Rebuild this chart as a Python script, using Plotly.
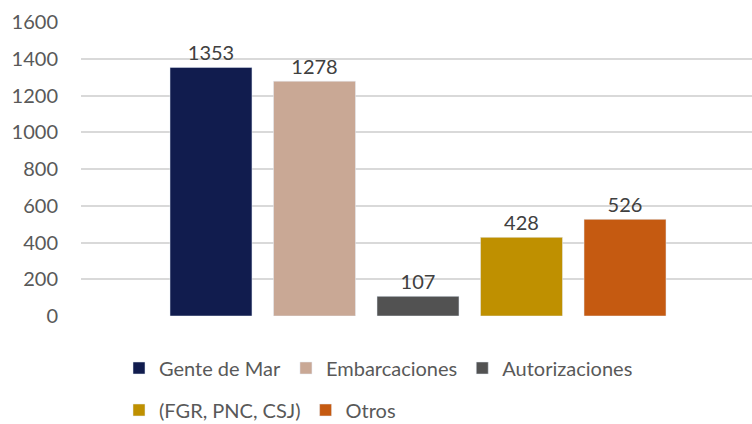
import plotly.graph_objects as go

series = ["Gente de Mar", "Embarcaciones", "Autorizaciones", "(FGR, PNC, CSJ)", "Otros"]
values = [1353, 1278, 107, 428, 526]
colors = ["#111c4e", "#c9a895", "#525252", "#bf9000", "#c55a11"]
legend_groups = ["legend", "legend", "legend", "legend2", "legend2"]
y_ticks = [0, 200, 400, 600, 800, 1000, 1200, 1400, 1600]

FONT = "Lato"

fig = go.Figure()
for i, (name, val, col, lg) in enumerate(zip(series, values, colors, legend_groups)):
    fig.add_trace(go.Bar(
        x=[i], y=[val], name=name, marker_color=col, width=0.792,
        text=[str(val)], textposition="outside", cliponaxis=False,
        textfont=dict(family=FONT, size=20, color="#404040"),
        legend=lg,
    ))

fig.update_layout(
    width=752, height=424,
    margin=dict(l=81, r=0, t=22, b=108, autoexpand=False),
    paper_bgcolor="white", plot_bgcolor="white",
    font=dict(family=FONT, size=20, color="#595959"),
    barmode="overlay",
    showlegend=True,
    xaxis=dict(range=[-1.256, 5.227], showticklabels=False, showgrid=False,
               zeroline=False, showline=False, fixedrange=True, automargin=False),
    yaxis=dict(range=[0, 1600], tickvals=y_ticks, showgrid=True,
               gridcolor="#d9d9d9", gridwidth=2, zeroline=False, showline=False,
               ticklabelstandoff=22, automargin=False,
               tickfont=dict(family=FONT, size=20, color="#595959")),
    legend=dict(orientation="h", xref="container", yref="container",
                x=119/752, y=(424-368)/424, xanchor="left", yanchor="middle",
                font=dict(family=FONT, size=20, color="#595959"),
                bgcolor="rgba(0,0,0,0)"),
    legend2=dict(orientation="h", xref="container", yref="container",
                 x=119/752, y=(424-410)/424, xanchor="left", yanchor="middle",
                 font=dict(family=FONT, size=20, color="#595959"),
                 bgcolor="rgba(0,0,0,0)"),
)

fig.write_html("out.html", config={"displayModeBar": False},
               post_script="document.body.style.margin='0';document.body.style.padding='0';")
